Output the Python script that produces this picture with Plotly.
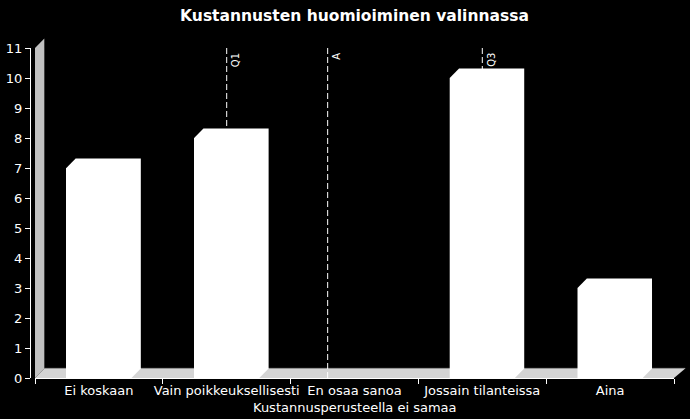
import plotly.graph_objects as go

# survey answers (counts per option)
categories = ["Ei koskaan", "Vain poikkeuksellisesti", "En osaa sanoa",
              "Jossain tilanteissa", "Aina"]
counts = [7, 8, 0, 10, 3]
y_ticks = list(range(0, 12))

# quartile / mean markers, on the category scale (0 = first option)
marker_names = ["Q1", "A", "Q3"]
marker_pos = [1.0, 1.79, 3.0]

title = "Kustannusten huomioiminen valinnassa"
x_title = "Kustannusperusteella ei samaa"

## fake 3d look
half = 0.255      # half of bar width
dx = 0.073        # depth, x units
dy = 0.32         # depth, y units
ymax = 11
W, H = 690, 419
ML, MR, MT, MB = 35, 16, 48, 41
dy_paper = dy / ymax
dx_paper = dx / len(categories)

font = dict(family="DejaVu Sans", size=13, color="white")

fig = go.Figure()

fig.add_trace(go.Bar(x=list(range(len(categories))), y=counts, width=2 * half,
                     marker=dict(color="white", line=dict(width=0)),
                     hovertext=categories, showlegend=False))

## whole bar outline incl. top + side
for i, v in enumerate(counts):
    if v == 0:
        continue
    xs = [i - half, i - half, i - half + dx, i + half + dx, i + half + dx, i + half, i - half]
    ys = [0, v, v + dy, v + dy, dy, 0, 0]
    fig.add_trace(go.Scatter(x=xs, y=ys, fill="toself", fillcolor="white", mode="lines",
                             line=dict(width=0, color="white"), hoverinfo="skip",
                             showlegend=False))

shapes = []
# back wall
shapes.append(dict(type="path", xref="x", yref="paper", layer="below",
                   path=f"M -0.5,0 L -0.5,1 L {-0.5 + dx},{1 + dy_paper} L {-0.5 + dx},{dy_paper} Z",
                   fillcolor="#c0c0c0", line=dict(width=0)))
# floor
shapes.append(dict(type="path", xref="paper", yref="y", layer="below",
                   path=f"M 0,0 L {dx_paper},{dy} L {1 + dx_paper + 0.003},{dy} L 1,0 Z",
                   fillcolor="#d4d4d4", line=dict(width=0)))
shapes.append(dict(type="line", xref="paper", yref="y", layer="below",
                   x0=dx_paper, x1=1 + dx_paper + 0.003, y0=dy, y1=dy,
                   line=dict(color="#9a9a9a", width=1)))
# marker lines
for p in marker_pos:
    shapes.append(dict(type="line", xref="x", yref="y", layer="below",
                       x0=p, x1=p, y0=0, y1=ymax,
                       line=dict(color="white", width=1, dash="6px,3px")))

annotations = []
for name, p in zip(marker_names, marker_pos):
    annotations.append(dict(x=p, y=ymax, xref="x", yref="y", text=name, textangle=-90,
                            xanchor="left", yanchor="top", xshift=1, yshift=-3,
                            showarrow=False, font=dict(family="DejaVu Sans", size=10, color="white")))
annotations.append(dict(x=0.5, y=-(407 - (H - MB)) / (H - MT - MB), xref="paper", yref="paper",
                        text=x_title, showarrow=False, xanchor="center", yanchor="middle",
                        font=font))

fig.update_layout(
    width=W, height=H,
    margin=dict(l=ML, r=MR, t=MT, b=MB, pad=0, autoexpand=False),
    paper_bgcolor="black", plot_bgcolor="black",
    font=font,
    title=dict(text=title, x=0.5, xref="paper", xanchor="center",
               y=1 - 16 / H, yanchor="middle",
               font=dict(family="DejaVu Sans", size=15.5, color="white", weight="bold")),
    shapes=shapes, annotations=annotations,
    bargap=0,
)
fig.update_xaxes(range=[-0.5, len(categories) - 0.5], tickvals=list(range(len(categories))),
                 ticktext=categories, ticks="", showgrid=False, zeroline=False,
                 showline=True, linecolor="white", linewidth=1, automargin=False,
                 minor=dict(tickvals=[i - 0.5 for i in range(len(categories) + 1)],
                            ticks="outside", ticklen=5, tickcolor="white", showgrid=False),
                 tickfont=font, fixedrange=True)
fig.update_yaxes(range=[0, ymax], tickvals=y_ticks, ticks="outside", ticklen=5,
                 tickcolor="white", showline=True, linecolor="white", linewidth=1,
                 showgrid=False, zeroline=False, anchor="free", position=0, shift=-5,
                 automargin=False, tickfont=font, fixedrange=True)

fig.write_html("out.html", config={"displayModeBar": False},
               post_script="document.body.style.margin='0';document.body.style.background='black';")
